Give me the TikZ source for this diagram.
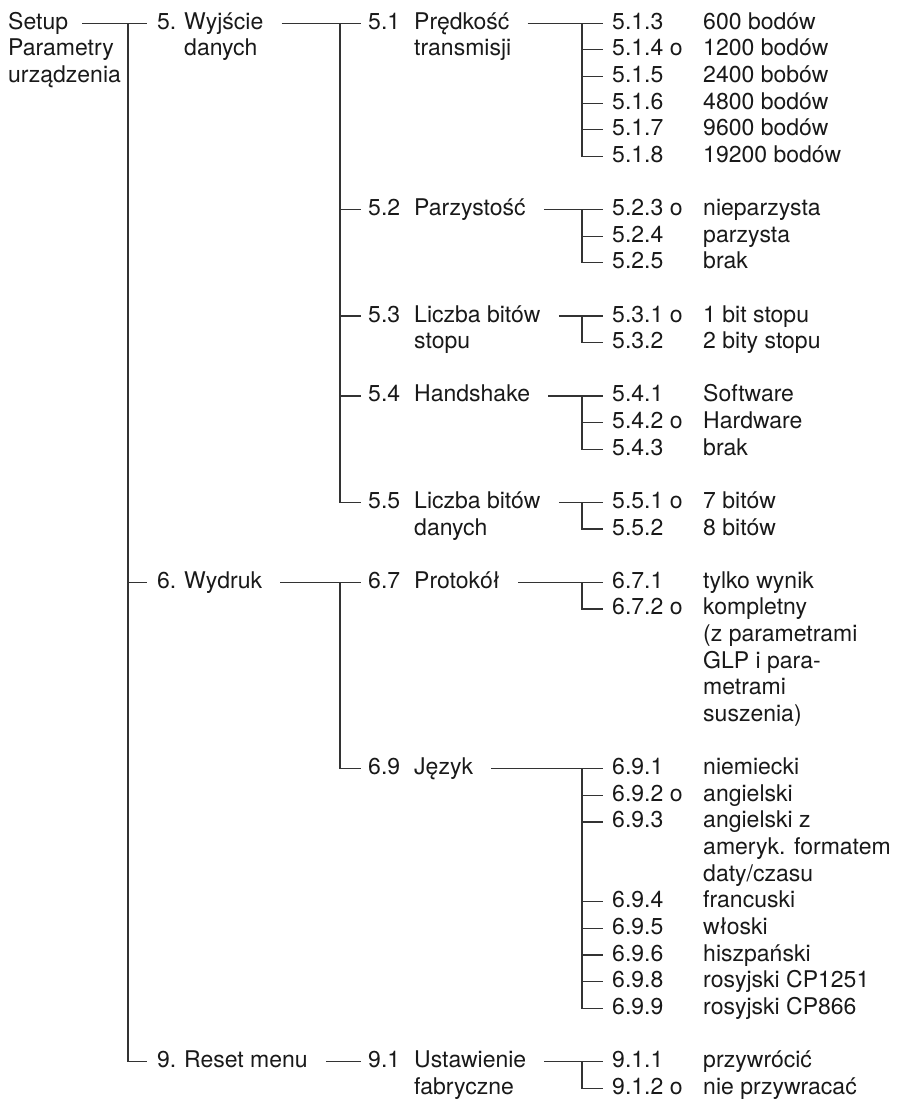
\documentclass[tikz,border=0pt]{standalone}
\usepackage{fontspec}
\setmainfont{TeX Gyre Heros}
\tikzset{
  txt/.style={anchor=base west, inner sep=0pt, text=black!90},
  ln/.style={draw=black!80, line width=1.2pt},
}
% leaves of one menu point: #1 parent label, #2 prefix, #3 row/number/text
\newcommand{\leafgroup}[3]{%
  \foreach \row/\num/\val [count=\i] in {#3} {
    \node[txt] (#2\i) at (612,\row) {\num};
    \node[txt] (#2v\i) at (703,\row) {\val};
    \draw[ln] (barC |- #2\i.mid) -- ([xshift=-9pt]#2\i.mid west);
    \xdef\lastleaf{#2\i}
  }
  \draw[ln] ([xshift=18pt]#1.mid east) -- ([xshift=-9pt]#21.mid west);
  \draw[ln] (barC |- #1.mid) -- (barC |- \lastleaf.mid) -- ([xshift=-9pt]\lastleaf.mid west);
}
\begin{document}
\fontsize{23}{27}\selectfont
\begin{tikzpicture}[x=1pt, y=-26.62pt]
\useasboundingbox (0,-1.1) rectangle (897,40.22);
\coordinate (barA) at (128,0);
\coordinate (barB) at (340,0);
\coordinate (barC) at (582,0);

% root
\node[txt] (setup) at (8,0) {Setup};
\node[txt] (setup2) at (8,1) {Parametry};
\node[txt] (setup3) at (8,2) {urządzenia};

% level 1
\node[txt] (m5n) at (157,0) {5.};
\node[txt] (m5) at (184,0) {Wyjście};
\node[txt] (m5b) at (184,1) {danych};
\node[txt] (m6n) at (157,21) {6.};
\node[txt] (m6) at (184,21) {Wydruk};
\node[txt] (m9n) at (157,39) {9.};
\node[txt] (m9) at (184,39) {Reset menu};

\draw[ln] ([xshift=14pt]setup.mid east) -- ([xshift=-10pt]m5n.mid west);
\draw[ln] (barA |- m5n.mid) -- (barA |- m9n.mid) -- ([xshift=-10pt]m9n.mid west);
\draw[ln] (barA |- m6n.mid) -- ([xshift=-10pt]m6n.mid west);

% level 2
\node[txt] (p51n) at (368,0) {5.1};
\node[txt] (p51) at (414,0) {Prędkość};
\node[txt] (p51b) at (414,1) {transmisji};
\node[txt] (p52n) at (368,7) {5.2};
\node[txt] (p52) at (414,7) {Parzystość};
\node[txt] (p53n) at (368,11) {5.3};
\node[txt] (p53) at (414,11) {Liczba bitów};
\node[txt] (p53b) at (414,12) {stopu};
\node[txt] (p54n) at (368,14) {5.4};
\node[txt] (p54) at (414,14) {Handshake};
\node[txt] (p55n) at (368,18) {5.5};
\node[txt] (p55) at (414,18) {Liczba bitów};
\node[txt] (p55b) at (414,19) {danych};
\node[txt] (p67n) at (368,21) {6.7};
\node[txt] (p67) at (414,21) {Protokół};
\node[txt] (p69n) at (368,28) {6.9};
\node[txt] (p69) at (414,28) {Język};
\node[txt] (p91n) at (368,39) {9.1};
\node[txt] (p91) at (414,39) {Ustawienie};
\node[txt] (p91b) at (414,40) {fabryczne};

\draw[ln] ([xshift=18pt]m5.mid east) -- ([xshift=-7pt]p51n.mid west);
\draw[ln] (barB |- p51n.mid) -- (barB |- p55n.mid) -- ([xshift=-7pt]p55n.mid west);
\foreach \p in {p52n,p53n,p54n}
  \draw[ln] (barB |- \p.mid) -- ([xshift=-7pt]\p.mid west);
\draw[ln] ([xshift=18pt]m6.mid east) -- ([xshift=-7pt]p67n.mid west);
\draw[ln] (barB |- p67n.mid) -- (barB |- p69n.mid) -- ([xshift=-7pt]p69n.mid west);
\draw[ln] ([xshift=18pt]m9.mid east) -- ([xshift=-7pt]p91n.mid west);

% level 3
\leafgroup{p51}{k51}{0/5.1.3/600 bodów, 1/5.1.4 o/1200 bodów, 2/5.1.5/2400 bobów,
  3/5.1.6/4800 bodów, 4/5.1.7/9600 bodów, 5/5.1.8/19200 bodów}
\leafgroup{p52}{k52}{7/5.2.3 o/nieparzysta, 8/5.2.4/parzysta, 9/5.2.5/brak}
\leafgroup{p53}{k53}{11/5.3.1 o/1 bit stopu, 12/5.3.2/2 bity stopu}
\leafgroup{p54}{k54}{14/5.4.1/Software, 15/5.4.2 o/Hardware, 16/5.4.3/brak}
\leafgroup{p55}{k55}{18/5.5.1 o/7 bitów, 19/5.5.2/8 bitów}
\leafgroup{p67}{k67}{21/6.7.1/tylko wynik, 22/6.7.2 o/kompletny}
\node[txt] (k67c1) at (703,23) {(z parametrami};
\node[txt] (k67c2) at (703,24) {GLP i para-};
\node[txt] (k67c3) at (703,25) {metrami};
\node[txt] (k67c4) at (703,26) {suszenia)};
\leafgroup{p69}{k69}{28/6.9.1/niemiecki, 29/6.9.2 o/angielski, 30/6.9.3/angielski z,
  33/6.9.4/francuski, 34/6.9.5/włoski, 35/6.9.6/hiszpański,
  36/6.9.8/rosyjski CP1251, 37/6.9.9/rosyjski CP866}
\node[txt] (k69c1) at (703,31) {ameryk. formatem};
\node[txt] (k69c2) at (703,32) {daty/czasu};
\leafgroup{p91}{k91}{39/9.1.1/przywrócić, 40/9.1.2 o/nie przywracać}
\end{tikzpicture}
\end{document}
